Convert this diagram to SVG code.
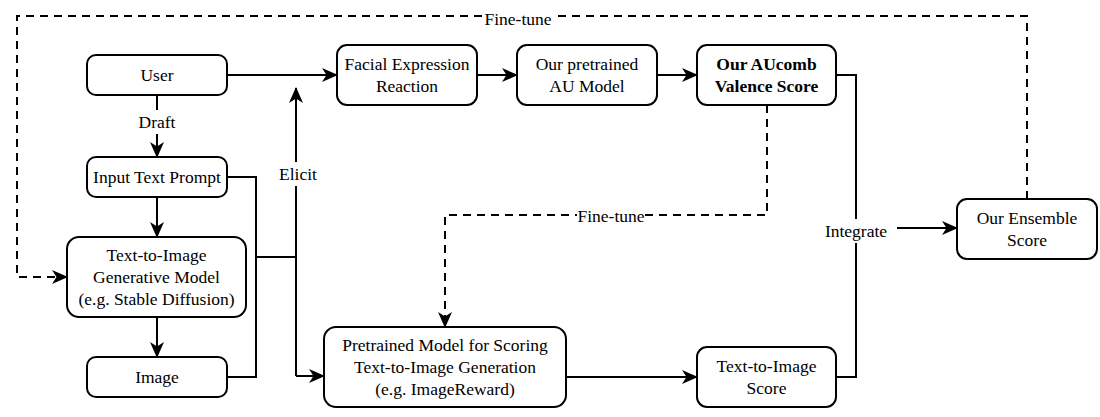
<svg xmlns="http://www.w3.org/2000/svg" width="1100" height="417" viewBox="0 0 1100 417">
<style>
.box{fill:#fff;stroke:#000;stroke-width:2}
.t{font-size:17.5px;fill:#000;text-anchor:middle;font-family:'Liberation Serif','Times New Roman',serif}
.b{font-weight:bold}
.e{fill:none;stroke:#000;stroke-width:2;stroke-linejoin:miter}
.d{stroke-dasharray:8 6}
.a{marker-end:url(#arr)}
.lb{fill:#fff;stroke:none}
</style>
<defs>
<marker id="arr" markerUnits="userSpaceOnUse" viewBox="0 0 16 14" markerWidth="16" markerHeight="14" refX="15" refY="7" orient="auto">
<path d="M0,0 L16,7 L0,14 L4.5,7 Z" fill="#000"/>
</marker>
</defs>
<rect width="1100" height="417" fill="#fff"/>
<g id="connectors">
<path class="e a" d="M227,75 H337"/>
<path class="e a" d="M477,75 H517"/>
<path class="e a" d="M657,75 H697"/>
<path class="e a" d="M157,95 V157"/>
<path class="e a" d="M157,197 V237"/>
<path class="e a" d="M157,317 V357"/>
<path class="e" d="M227,177 H256 V377 H227"/>
<path class="e" d="M256,257 H296"/>
<path class="e a" d="M296,376 V88"/>
<path class="e a" d="M296,376 H324"/>
<path class="e d a" d="M767,105 V215 H445 V327"/>
<path class="e a" d="M566,377 H697"/>
<path class="e" d="M836,75 H856 V377 H836"/>
<path class="e a" d="M897,228 H957"/>
<path class="e d a" d="M1027,199 V16 H17 V277 H67"/>
<rect class="lb" x="138" y="110" width="38" height="24"/>
<text class="t" x="157" y="128">Draft</text>
<rect class="lb" x="278" y="162" width="38" height="24"/>
<text class="t" x="298" y="180">Elicit</text>
<rect class="lb" x="484" y="8" width="68" height="20"/>
<text class="t" x="518" y="25">Fine-tune</text>
<rect class="lb" x="577" y="206" width="68" height="20"/>
<text class="t" x="611" y="222">Fine-tune</text>
<rect class="lb" x="823" y="219" width="66" height="24"/>
<text class="t" x="856" y="237">Integrate</text>
</g>
<g id="user"><rect class="box" x="87" y="55" width="140" height="40" rx="9"/><text class="t" x="157" y="81">User</text></g>
<g id="prompt"><rect class="box" x="87" y="157" width="140" height="40" rx="9"/><text class="t" x="157" y="183">Input Text Prompt</text></g>
<g id="generative"><rect class="box" x="67" y="237" width="179" height="80" rx="12"/><text class="t" x="156.5" y="261">Text-to-Image</text><text class="t" x="156.5" y="283">Generative Model</text><text class="t" x="156.5" y="305">(e.g. Stable Diffusion)</text></g>
<g id="image"><rect class="box" x="87" y="357" width="140" height="40" rx="9"/><text class="t" x="157" y="383">Image</text></g>
<g id="facial"><rect class="box" x="337" y="45" width="140" height="60" rx="10"/><text class="t" x="407" y="70">Facial Expression</text><text class="t" x="407" y="92">Reaction</text></g>
<g id="au"><rect class="box" x="517" y="45" width="140" height="60" rx="10"/><text class="t" x="587" y="70">Our pretrained</text><text class="t" x="587" y="92">AU Model</text></g>
<g id="aucomb"><rect class="box" x="697" y="45" width="139" height="60" rx="10"/><text class="t b" x="766.5" y="70">Our AUcomb</text><text class="t b" x="766.5" y="92">Valence Score</text></g>
<g id="pretrained"><rect class="box" x="324" y="327" width="242" height="80" rx="12"/><text class="t" x="445" y="351">Pretrained Model for Scoring</text><text class="t" x="445" y="373">Text-to-Image Generation</text><text class="t" x="445" y="395">(e.g. ImageReward)</text></g>
<g id="t2iscore"><rect class="box" x="697" y="347" width="139" height="60" rx="10"/><text class="t" x="766.5" y="372">Text-to-Image</text><text class="t" x="766.5" y="394">Score</text></g>
<g id="ensemble"><rect class="box" x="957" y="199" width="140" height="60" rx="10"/><text class="t" x="1027" y="224">Our Ensemble</text><text class="t" x="1027" y="246">Score</text></g>
</svg>
